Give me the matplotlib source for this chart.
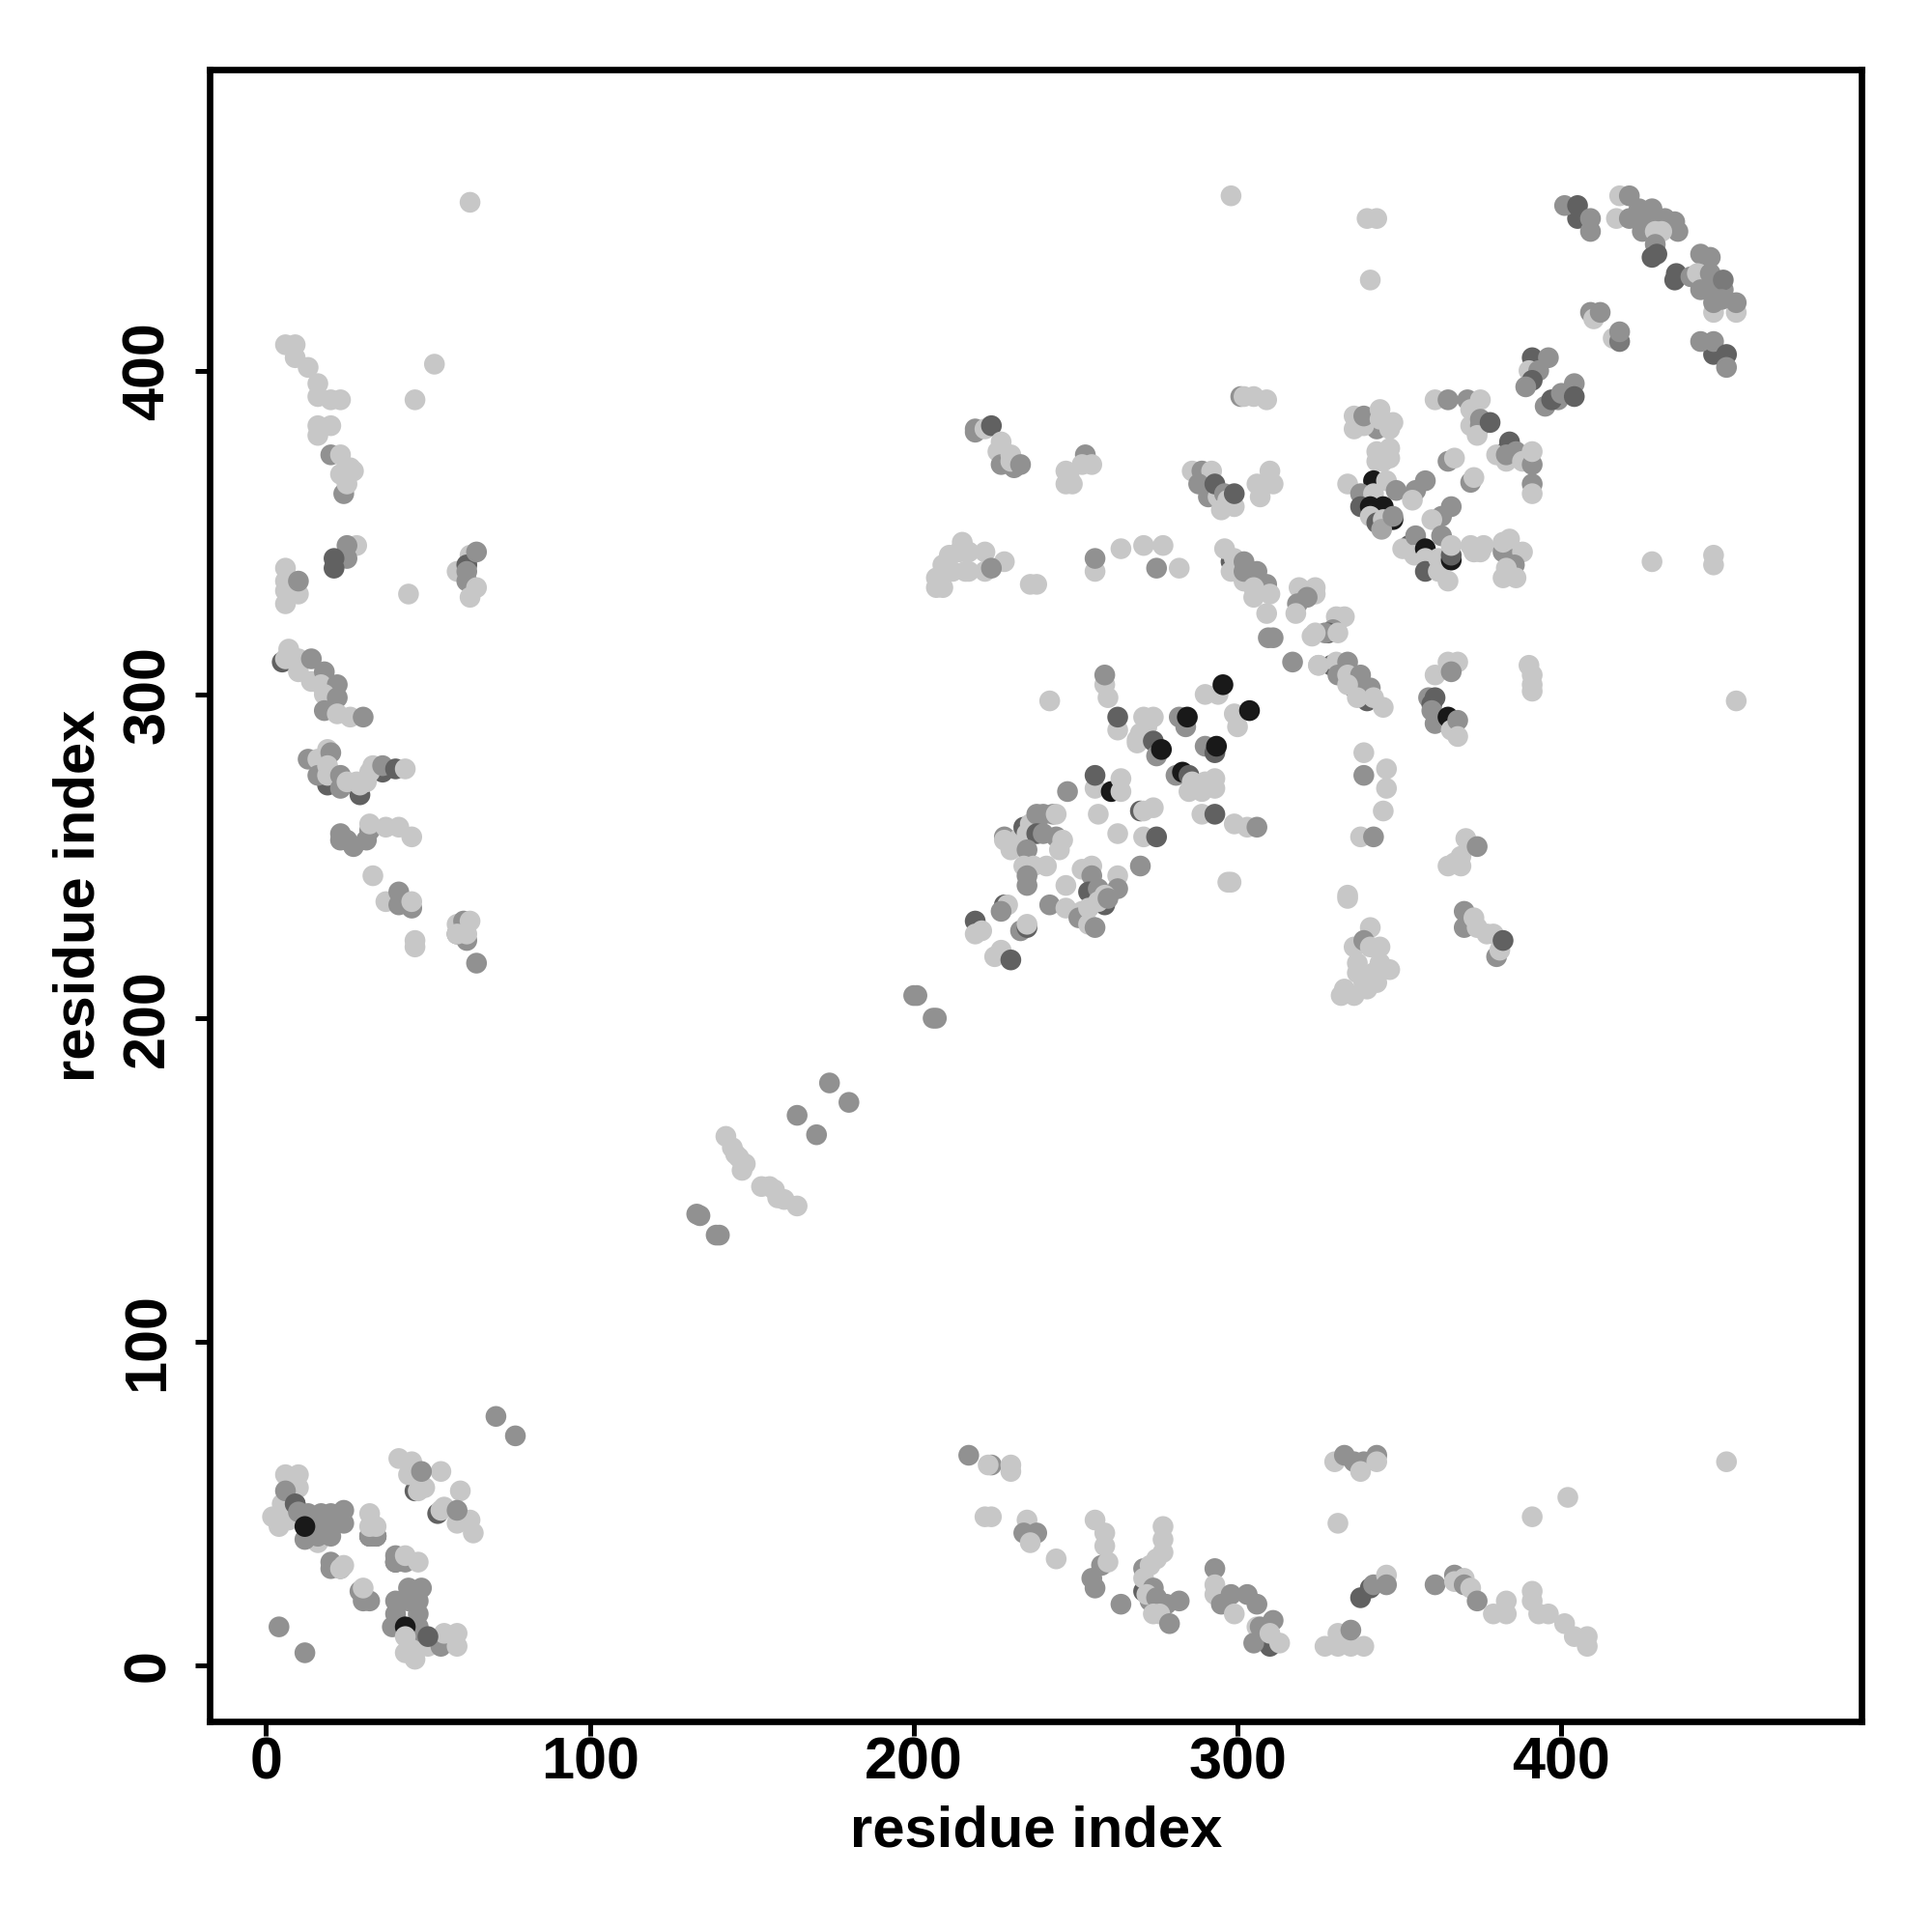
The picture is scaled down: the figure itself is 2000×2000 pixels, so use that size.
import matplotlib
matplotlib.use("Agg")
import matplotlib.pyplot as plt

plt.rcParams['font.family'] = ['Liberation Sans', 'DejaVu Sans']

# grey levels
L = 0.78
M = 0.57
D = 0.38
K = 0.1

# (i, j, level) per cluster, in drawing order
far_bottom_left = [(71,77,M),(77,71,M),(4,12,M),(12,4,M)]
bottom_left = [
    (8,47,K),(46,54,D),(53,47,D),(9,50,D),(32,40,D),(34,40,D),(40,32,D),(43,32,M),(46,9,K),
    (41,64,L),(45,63,L),(44,59,L),(49,55,L),(47,54,L),(54,60,L),(60,54,L),(55,49,L),(54,48,L),(63,45,L),
    (59,44,L),(64,41,L),(32,47,L),(6,59,L),(10,59,L),(10,55,L),(5,50,L),(2,46,L),(4,46,L),(4,43,L),(7,45,L),
    (16,38,L),(6,54,M),(9,50,D),(48,60,M),(59,48,M),(40,34,M),(40,32,M),(43,34,L),(47,32,L),
    (34,40,M),(32,40,M),(34,43,L),(32,43,L),(24,48,M),(24,44,M),(20,40,M),(16,40,M),(12,39,M),(10,47.5,M),(13,47,M),
    (17,47,M),(20,47,M),(16,43,M),(20,43,M),(12,43,K),(20,32,M),(20,30,M),(23,30,M),(24,31,L),(23,30,L),
    (29,23,M),(32,20,M),(30,20,M),(30,24,L),(44,24,M),(48,24,M),(40,20,M),(44,20,M),(47,20,M),(40,16,M),(47,16,M),
    (39,12,M),(47,12,M),(47,9,M),(43,12,K),(43,9,L),(43,4,L),(46,2,L),(45,5,L),(50,6,L),(54,6,M),(55,10,L),(59,10,L),
    (59,6,L),(50,9,D)]
left_mid = [
    (5,310,D),(9,311,D),(19,272,D),(23,273,D),(29,269,D),(36,276,D),
    (7,314,L),(6,311,L),(10,311,L),(10,307,L),(14,311,M),(14,304,L),(18,307,M),(17,303,L),(22,303,M),(18,300,L),(22,299,M),
    (18,295,M),(22,294,L),(26,293,L),(30,293,M),(13,280,M),(16,280,L),(19,283,L),(20,282,M),(16,275,M),(19,278,L),(19,275,L),
    (23,271,M),(23,275,M),(25,273,L),(28,273,L),(29,272,L),(31,273,L),(32,276,L),(33,278,L),(36,278,M),(40,277,D),(43,277,L),
    (23,257,M),(23,255,M),(25,255,M),(27,253,M),(31,255,M),(32,258,M),(32,260,L),(37,259,L),(41,259,L),(45,256,L),
    (33,244,L),(37,236,L),(41,239,M),(41,235,M),(45,234,M),(45,236,L),(46,224,L),(46,222,L),(59,226,M),(62,224,M),(59,229,L),
    (61,230,M),(63,230,L),(59,226,L),(62,226,L),(65,217,M)]
left_top = [
    (6,408,L),(9,408,L),(9,404,L),(13,401,L),(16,396,L),(16,392,L),(20,391,L),(23,391,L),(16,383,L),(20,383,L),(16,380,L),
    (20,374,M),(23,374,L),(24,362,M),(23,368,L),(26,370,L),(27,369,L),(25,365,L),(52,402,L),(46,391,L),(63,452,L),(28,346,L),
    (25,346,M),(25,342,M),(21,342,D),(21,339,D),(6,339,L),(6,335,L),(6,332,L),(6,328,L),(10,331,L),(10,335,M),(44,331,L),
    (59,338,L),(63,343,L),(62,340,D),(62,338,M),(62,335,M),(65,344,M),(65,333,L),(63,330,L)]
bottom_mid = [
    (271,23,D),(276,18,D),(271,30,M),(338,21,D),(341,24,D),(310,6,D),
    (217,65,M),(224,62,M),(223,62,L),(230,62,L),(230,60,L),(222,46,L),(224,46,L),(235,45,L),(234,41,M),(238,41,M),(236,38,L),
    (244,33,L),(256,45,L),(259,41,L),(259,37,L),(258,31,M),(260,32,L),(255,27,M),(256,24,M),(264,19,M),(273,20,M),(271,27,L),
    (273,31,L),(277,43,L),(277,39,L),(277,35,L),(275,33,L),(274,24,M),(272,22,L),(275,21,M),(278,19,M),(274,16,L),(276,16,L),(282,20,M),(279,13,M),
    (293,30,M),(293,25,L),(293,22,L),(295,19,M),(298,22,M),(299,16,L),(303,22,M),(306,19,M),(306,12,L),(311,14,M),(307,12,M),
    (305,7,M),(310,10,L),(313,7,L),(330,63,L),(333,65,M),(336,63,M),(339,63,M),(338,60,L),(343,65,M),(343,63,L),(331,44,L),
    (327,6,L),(331,10,L),(331,6,L),(335,6,L),(335,11,M),(339,6,L),(342,25,M),(346,28,L),(346,25,M),(361,25,M),(367,28,M),
    (367,26,L),(370,27,L),(370,25,M),(372,24,L),(374,20,M),(391,46,L),(402,52,L),(451,63,L),(391,23,L),(383,20,L),(383,16,L),
    (379,16,L),(391,20,L),(393,16,L),(396,16,L),(401,13,L),(404,9,L),(408,9,L),(408,6,L)]
diagonal_low = [
    (142,163.5,L),(144,160,L),(145,158,L),(146,157,L),(148,155,L),(147,153,L),(153,148,L),(155.5,148,L),(157,147,L),(158,144.5,L),
    (160,144,L),(164,142,L),(133,139.5,M),(134,139,M),(139,133,M),(140,133,M),(164,170,M),(174,180,M),(180,174,M),(170,164,M),
    (200,207,M),(201,207,M),(206,200,M),(207,200,M)]
top_mid = [
    (298,454,L),(301,392,M),(302,392,L),(305,392,L),(309,391,L),(219,381,M),(219,382,M),(222,382,L),(224,383,D),
    (227,378,L),(226,375,L),(227,371,M),(231,370,M),(230,374,L),(230,372,L),(233,371,M),
    (253,374,M),(247,369,L),(248,367,L),(247,365,L),(249,365,L),(252,371,L),(255,371,L),
    (286,369,L),(289,369,M),(292,369,L),(288,365,M),(291,361,M),(294,361,L),(293,365,D),(296,362,M),(297,360,L),(295,357,L),(299,358,L),(299,362,D),
    (310,369,L),(311,365,L),(306,365,L),(307,361,L),
    (215,347,L),(211,343,L),(209,340,L),(207,336,L),(207,333,L),(209,333,L),(214,344,L),(217,344,L),(222,344,L),(228,341,L),
    (216,338,L),(212,338,L),(217,338,L),(222,338,L),(224,339,M),(236,334,L),(238,334,L),(256,338,L),(256,342,M),(264,345,L),
    (271,346,L),(277,346,L),(275,339,M),(282,339,L),
    (298,341,D),(296,345,L),(299,342,L),(298,338,L),(302,341,M),(302,335,L),(302,338,M),(306,338,M),(309,334,M),(305,333,L),
    (305,330,L),(310,331,L),(309,325,L),(309.5,317.5,M),(311,317.5,M),(317,310,M),(325,309,L),
    (319,333,L),(324,333,L),(324,331,L),(321.5,330,M),(318.5,328,M),(318,325,L),
    (330.5,324,L),(333,324,L),(329.5,320,M),(328,319,D),(327,319,M),(331,319,L),(324,319,L),(323,318,L)]
top_right = [
    (405,447,D),(401,451,M),(405,451,D),(409,447,M),(409,443,M),
    (418,454,L),(421,454,M),(417,447,L),(421,447,M),(424,450,M),(428,450,M),(425,447,M),(429,447,M),(432,447,M),(435,446,M),
    (425,443,M),(436,443,M),(429,443,L),(431,443,L),(429,439,M),(428,435,D),(429.5,436,D),
    (435,428,D),(435.5,430,D),(440,429,M),(443,436,M),(446,435,M),(442,430,L),(446,430,M),(443,425,M),(446,426,M),(450,425,M),
    (450,428,0.48),(447,418,L),(454,418,L),(447,421,M),(454,421,M),(449.5,422,M),
    (447,405,D),(443,409,M),(447,409,M),(451,405,D),(451,401,M),
    (409,418,M),(410,416,L),(412,418,M),(416,410,L),(418,409,0.48),(418,412,M),
    (391,404,D),(396,404,M),(390,400,L),(393,400,M),(391,397,D),(389,395,M),
    (399,391,M),(395,389,M),(397,391,D),(400,393,M),(404,396,M),(404,392,D)]
center_right = [
    (361,391,L),(365,391,M),(371,391,M),(375,391,L),(372,388,L),(374,383,K),(372,383,L),(375,385,M),(375,383,M),(374,380,L),(378,384,D),
    (383,375,K),(380,374,L),(383,372,L),(384,378,D),(386,375,M),(383,374,M),(388,372,L),(391,371,M),(391,375,L),(391,365,M),(391,362,L),
    (343,382,M),(336,386,L),(336,382,L),(339,383,L),(339,386,M),(344,388,L),(344,385,L),(348,384,L),(347,382,L),
    (347,376,L),(343,375,L),(347,373,L),(343,372,L),(345,372,L),
    (334,365,L),(342,366,K),(346,366,L),(349,363,M),(338,362,M),(342,362,L),(338,358,D),(345,358,K),(341,358,K),(341,355,L),
    (348,354,K),(343,353,D),(345,354,L),(344.5,351,0.65),(348,355,M),
    (358,366,M),(355,363,M),(354,360,L),(366,358,M),(363,355,M),(360,354,L),(365,372,M),(367,373,L),(372,365.5,M),(373,367,L),
    (353,346,D),(351,345,L),(355,349,M),(354.6,343,L),(358,345,K),(358,342,L),(358,338,D),(362,342,L),(362,338,L),(363,349,M),
    (366,341.5,K),(366,343,D),(366,346,L),(365,335,L),
    (372,346,L),(376,346,L),(373,344,L),(375,344,L),(382,344,M),(382,347,L),(384,348,L),(388,344,L),(385.5,340,M),(383,339,L),
    (382,336,L),(386,336,L),(428,341,L),(447,343,L),(447,340,L),(340,447,L),(343,447,L),(341,428,L)]
center_mid = [
    (329,309,D),(325,309,L),(330.5,310,L),(334,310,M),(331,306,M),(334,306,L),(338,306,M),(336,302,D),(338,303,M),(341,302,M),(334,303,L),
    (340,298,D),(337,299,L),(342,299,L),(345,296,L),(339,282,L),(339,275,M),(346,277,L),(346,271,L),(345,264,L),(338,256,L),(342,256,M),
    (334,237,L),(334,238,L),
    (341,228,L),(336,222,L),(339,224,M),(341,222,L),(344,222,L),(337,217,L),(344,217,L),(347,215,L),(337,214,L),(342,214,L),(339,211,L),
    (343,211,L),(333,209,L),(332,207,L),(336,207,L),(340,209,L),
    (365,247,L),(369,250,L),(370.5,255.5,L),(374,253,M),(369,247,L),(367,248,L),(370,233,M),(370,228,M),(373,231,L),(374,228,L),(377,226,L),(379,226,L),
    (380,219,M),(381,221,L),(382,224,D),
    (390,309,L),(391,306,L),(391,303,L),(391,301,L),(454,298,L),(297,242,L),
    (359,299,M),(360,297,D),(361,306,L),(365,310,L),(368,310,L),(366,307,M),(361,299,D),(360,295,M),(361,291,M),(365,293,K),(366,289,L),(368,292,M),(368,287,L)]
diagonal_mid = [
    (242,298,L),(259,303,L),(260,299,L),(259,306,M),(263,289,L),(263,293,D),
    (271,293,L),(274,293,L),(270,288,L),(272,290,L),(269,286,L),(269,285,L),(274,285.6,D),(275,281,M),(276.5,283,K),
    (282,293,M),(284,290,M),(284.5,293,K),(290,300,L),(294,300,L),(295.5,303,K),(299,294,L),(300,290,L),(303.7,295,K),
    (290,284,M),(293,282,D),(293.5,284,K),(281,275,M),(283,276,K),(285,275,D),(285,270,L),(286,273,L),(289,270,L),(290,273,L),(293,271,L),(293,274,L),
    (289,263,L),(293,263,D),(299,260,L),(303,259,L),(306,259,M),
    (256,271,L),(256,275,D),(247.5,270,M),(261,270,K),(264,274,L),(264,270,L),(257,263,L),(263,257,L),(271,256,L),(275,256,D),
    (270,264,D),(271,264,L),(274,265,L),(270,247,M),(298,242,L),
    (228,256,M),(228,255,L),(230,252,L),(232,254,L),(233,256,L),(234,259,D),(235,257,L),(236,260,L),(238,263,M),(240,263,M),(243,263,M),(244,263,L),
    (238,257,D),(240,257,M),(244,256,M),(246,255,L),(245,252,L),(235,252,M),(234,247,L),(237,247,L),(241,247,L),(235,244,M),(235,241,M),
    (252,246,L),(255,247,L),(255,244,M),(263,244,L),(263,240,M),(247,241,L),(242,235,M),(247,234,L),
    (254,239,D),(257,240,M),(259,235,D),(252,233,L),(251,231,M),(254,234,L),(257,236,L),(259,238,L),(260,237,M),(254,229,L),(256,228,M),
    (228,235,D),(229,235,L),(227,233,M),(233,227,M),(235,228,D),(235,229,L),(219,230,D),(221,227,L),(219,226,L),(225,219,L),(227,221,L),(230,218,D)]

clusters = [far_bottom_left, bottom_left, left_mid, left_top, bottom_mid, diagonal_low,
            top_mid, top_right, center_right, center_mid, diagonal_mid]

x_ticks = [0, 100, 200, 300, 400]
y_ticks = [0, 100, 200, 300, 400]

fig = plt.figure(figsize=(10, 10), dpi=200)
ax = fig.add_axes([0.1087, 0.109, 0.855, 0.855])

for pts in clusters:
    xs = [p[0] for p in pts]
    ys = [p[1] for p in pts]
    cs = [p[2] for p in pts]
    ax.scatter(xs, ys, c=cs, s=60, cmap='gray', vmin=0, vmax=1, linewidths=0)

ax.set_xlim(-17.3, 492.8)
ax.set_ylim(-17.2, 493)
ax.set_xticks(x_ticks)
ax.set_yticks(y_ticks)
ax.tick_params(length=5.5, width=1.8, labelsize=22)
ax.tick_params(axis='x', pad=0)
ax.tick_params(axis='y', pad=7)
for lab in ax.get_xticklabels():
    lab.set_fontweight('bold')
for lab in ax.get_yticklabels():
    lab.set_fontweight('bold')
    lab.set_rotation(90)
    lab.set_va('center')
for s in ax.spines.values():
    s.set_linewidth(2.4)

ax.set_xlabel("residue index", fontsize=21.5, fontweight='bold', labelpad=5)
ax.set_ylabel("residue index", fontsize=21.5, fontweight='bold', labelpad=6)

fig.savefig("out.png", dpi=200)
